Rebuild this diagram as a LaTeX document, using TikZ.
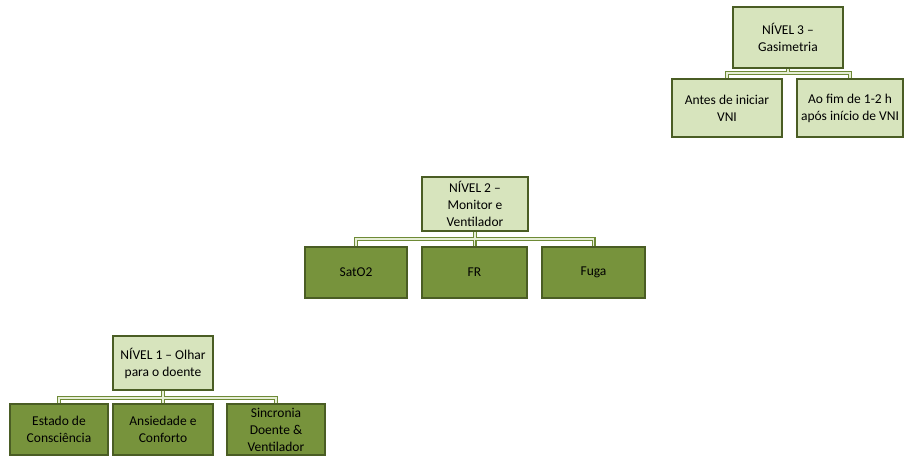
\documentclass[tikz,border=0pt]{standalone}
\usepackage{fontspec}
\setmainfont{Carlito}
\definecolor{olivedark}{HTML}{4A5D24}
\definecolor{lightfill}{HTML}{D7E4BD}
\definecolor{darkfill}{HTML}{77933C}
\definecolor{connedge}{HTML}{6E8A36}
\definecolor{conninner}{HTML}{E6EED6}
\tikzset{
  box/.style={draw=olivedark, line width=2.8pt, align=center, inner sep=2pt,
    font=\fontsize{13.5}{17}\selectfont, text=black},
  lightbox/.style={box, fill=lightfill},
  darkbox/.style={box, fill=darkfill},
  connout/.style={draw=connedge, line width=4pt},
  connin/.style={draw=conninner, line width=1.6pt},
}
\newcommand\myconnectors[1]{%
  \path[#1] (n3a.north) -- (n3a.north |- b3) -- (n3b.north |- b3) -- (n3b.north);
  \path[#1] (n3.south) -- (n3.south |- b3);
  \path[#1] (n2a.north) -- (n2a.north |- b2) -- (n2c.north |- b2) -- (n2c.north);
  \path[#1] (n2.south) -- (n2.south |- b2);
  \path[#1] (n2b.north) -- (n2b.north |- b2);
  \path[#1] (n1a.north) -- (n1a.north |- b1) -- (n1c.north |- b1) -- (n1c.north);
  \path[#1] (n1.south) -- (n1.south |- b1);
  \path[#1] (n1b.north) -- (n1b.north |- b1);
}
\begin{document}
\begin{tikzpicture}[x=1pt,y=-1pt]
\useasboundingbox (0,0) rectangle (905,456);
\coordinate (b3) at (0,73);
\coordinate (b2) at (0,239);
\coordinate (b1) at (0,398);
% node placeholders for connectors (drawn first, boxes on top)
\path (788,37.5) coordinate (p3) (727,108) coordinate (p3a) (850,108) coordinate (p3b);
% Level 3
\node[lightbox, minimum width=110pt, minimum height=61pt] (n3) at (788,37.5) {NÍVEL 3 –\\Gasimetria};
\node[lightbox, minimum width=110pt, minimum height=58pt] (n3a) at (727,108) {Antes de iniciar\\VNI};
\node[lightbox, minimum width=106pt, minimum height=58pt] (n3b) at (850,108) {Ao fim de 1-2 h\\após início de VNI};
% Level 2
\node[lightbox, minimum width=106pt, minimum height=54pt] (n2) at (475,204) {NÍVEL 2 –\\Monitor e\\Ventilador};
\node[darkbox, minimum width=102pt, minimum height=51pt] (n2a) at (356,272.5) {SatO2};
\node[darkbox, minimum width=105pt, minimum height=51pt] (n2b) at (474.5,272.5) {FR};
\node[darkbox, minimum width=103pt, minimum height=51pt] (n2c) at (593.5,272.5) {Fuga};
% Level 1
\node[lightbox, minimum width=100pt, minimum height=54pt] (n1) at (163,363) {NÍVEL 1 – Olhar\\para o doente};
\node[darkbox, minimum width=98pt, minimum height=51pt] (n1a) at (59,429.5) {Estado de\\Consciência};
\node[darkbox, minimum width=100pt, minimum height=51pt] (n1b) at (163,429.5) {Ansiedade e\\Conforto};
\node[darkbox, minimum width=98pt, minimum height=51pt] (n1c) at (276,429.5) {Sincronia\\Doente \&\\Ventilador};
% connectors: outer edge, then inner light line
\myconnectors{connout}
\myconnectors{connin}
\end{tikzpicture}
\end{document}
